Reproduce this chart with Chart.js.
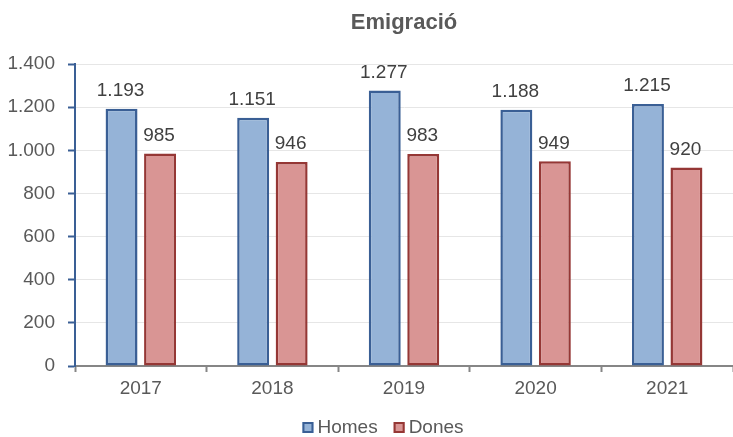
<!DOCTYPE html>
<html>
<head>
<meta charset="utf-8">
<script src="https://cdn.jsdelivr.net/npm/chart.js@4"></script>
<style>
html,body{margin:0;padding:0;background:#fff;}
#wrap{width:733px;height:437px;}
</style>
</head>
<body>
<div id="wrap"><canvas id="c" width="733" height="437"></canvas></div>
<script>
const categories = ['2017', '2018', '2019', '2020', '2021'];
const homes = [1193, 1151, 1277, 1188, 1215];
const dones = [985, 946, 983, 949, 920];
const yTicks = { min: 0, max: 1400, step: 200 };

const FONT = '"Liberation Sans", Arial, sans-serif';
const TXT = '#595959';

function fmt(v) {
  return String(v).replace(/\B(?=(\d{3})+(?!\d))/g, '.');
}

const labelPlugin = {
  id: 'valueLabels',
  afterDatasetsDraw(chart) {
    const ctx = chart.ctx;
    ctx.save();
    ctx.font = '19px ' + FONT;
    ctx.fillStyle = '#404040';
    ctx.textAlign = 'center';
    ctx.textBaseline = 'middle';
    chart.data.datasets.forEach((ds, i) => {
      chart.getDatasetMeta(i).data.forEach((bar, j) => {
        ctx.fillText(fmt(ds.data[j]), bar.x - 1, bar.y - 18);
      });
    });
    ctx.restore();
  }
};

const legendPlugin = {
  id: 'customLegend',
  afterDraw(chart) {
    const ctx = chart.ctx;
    ctx.save();
    ctx.font = '19px ' + FONT;
    ctx.textBaseline = 'middle';
    ctx.textAlign = 'left';
    const box = 11, gapText = 4, gapItem = 16, cy = 427.5, center = 383;
    const items = chart.data.datasets.map(ds => ({ ds, w: box + gapText + ctx.measureText(ds.label).width }));
    const total = items.reduce((s, it) => s + it.w, 0) + gapItem * (items.length - 1);
    let x = center - total / 2;
    items.forEach(it => {
      ctx.fillStyle = it.ds.backgroundColor;
      ctx.fillRect(x, cy - box / 2, box, box);
      ctx.strokeStyle = it.ds.borderColor;
      ctx.lineWidth = 2;
      ctx.strokeRect(x + 1, cy - box / 2 + 1, box - 2, box - 2);
      ctx.fillStyle = TXT;
      ctx.fillText(it.ds.label, x + box + gapText, cy);
      x += it.w + gapItem;
    });
    ctx.restore();
  }
};

new Chart(document.getElementById('c'), {
  type: 'bar',
  data: {
    labels: categories,
    datasets: [
      { label: 'Homes', data: homes, backgroundColor: '#95b3d7', borderColor: '#3a5f95', borderWidth: 2.5, borderSkipped: false,
        barPercentage: 0.83, categoryPercentage: 0.585 },
      { label: 'Dones', data: dones, backgroundColor: '#d99594', borderColor: '#953735', borderWidth: 2.5, borderSkipped: false,
        barPercentage: 0.83, categoryPercentage: 0.585 }
    ]
  },
  options: {
    responsive: false,
    animation: false,
    devicePixelRatio: 1,
    layout: { padding: { left: 0, right: 0, top: 0, bottom: 0 } },
    plugins: {
      title: {
        display: true,
        fullSize: false,
        text: 'Emigració',
        color: TXT,
        font: { family: FONT, size: 22, weight: 'bold' },
        padding: { top: 10, bottom: 27.6 }
      },
      legend: { display: false },
      tooltip: { enabled: false }
    },
    scales: {
      x: {
        afterFit(scale) { scale.height = 71; },
        grid: { display: true, drawOnChartArea: false, offset: true, tickLength: 6, tickColor: '#868686', tickWidth: 2 },
        border: { display: true, color: '#868686', width: 2 },
        ticks: { color: TXT, font: { family: FONT, size: 19 }, padding: 5 }
      },
      y: {
        min: yTicks.min, max: yTicks.max,
        afterFit(scale) { scale.width = 75; },
        grid: { color: '#e6e6e6', lineWidth: 1, tickLength: 7, tickColor: '#3a5f95', tickWidth: 2 },
        border: { display: true, color: '#3a5f95', width: 2 },
        ticks: { stepSize: yTicks.step, color: TXT, padding: 13,
          font: { family: FONT, size: 19 },
          callback: v => fmt(v) }
      }
    }
  },
  plugins: [labelPlugin, legendPlugin]
});
</script>
</body>
</html>
